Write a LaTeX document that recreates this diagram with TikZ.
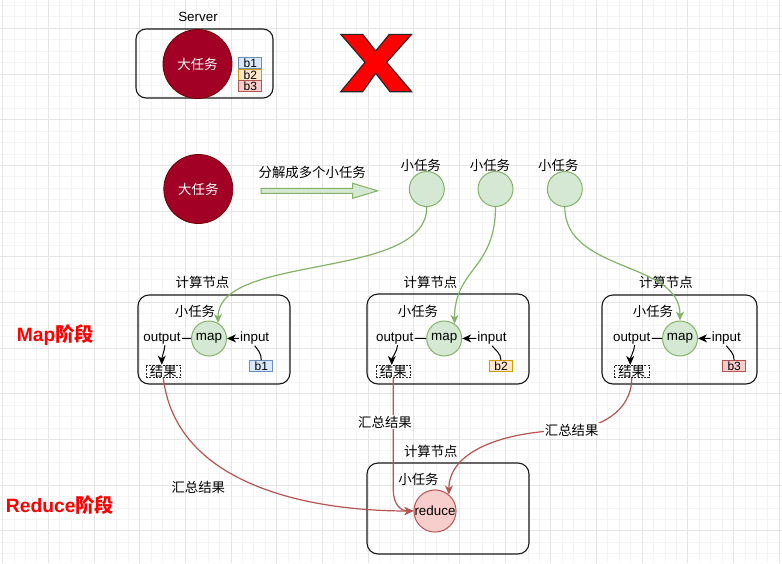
\documentclass[tikz,border=0pt]{standalone}
\usepackage{fontspec}
\setmainfont{Liberation Sans}
\newfontfamily\cjk{Noto Sans CJK SC}
\usetikzlibrary{arrows.meta}
\definecolor{gfill}{HTML}{D5E8D4}
\definecolor{gline}{HTML}{82B366}
\definecolor{rfill}{HTML}{F8CECC}
\definecolor{rline}{HTML}{B85450}
\definecolor{bfill}{HTML}{DAE8FC}
\definecolor{bline}{HTML}{6C8EBF}
\definecolor{ofill}{HTML}{FFE6CC}
\definecolor{oline}{HTML}{D79B00}
\definecolor{dred}{HTML}{A20025}
\definecolor{dredline}{HTML}{6F0000}
\definecolor{gridmin}{HTML}{F4F4F4}
\definecolor{gridmaj}{HTML}{E5E5E5}
\newcommand\fsz{\fontsize{13.4}{15}\selectfont}
\newcommand\tagfsz{\fontsize{12}{13}\selectfont}
\newcommand\bigfsz{\fontsize{19.3}{22}\selectfont}
\begin{document}
\begin{tikzpicture}[x=1pt,y=-1pt,
  txt/.style={inner sep=1pt, font=\fsz},
  ctxt/.style={inner sep=1pt, font=\fsz\cjk},
  wlbl/.style={inner sep=1pt, font=\fsz\cjk, fill=white},
  stage/.style={inner sep=0pt, font=\bigfsz\bfseries, text=red},
  cbox/.style={draw=black!90, line width=1.1pt, rounded corners=11pt, minimum width=#1},
  gcirc/.style={circle, draw=gline, fill=gfill, line width=1pt, minimum size=35pt, inner sep=0pt, font=\fsz},
  bigcirc/.style={circle, draw=dredline, fill=dred, line width=0.8pt, minimum size=69pt, inner sep=0pt, text=white, font=\fsz\cjk},
  tagbox/.style={draw=#1line, fill=#1fill, line width=0.9pt, inner sep=0pt, minimum width=23pt, minimum height=11pt, text height=8.6pt, text depth=0pt, font=\tagfsz},
  resbox/.style={draw=black!85, dash pattern=on 2pt off 1.3pt, line width=0.8pt, inner sep=0pt, minimum width=34.5pt, minimum height=12pt, font=\fsz\cjk},
  tip/.style={-{Stealth[length=9pt,width=8pt,inset=2.8pt]}},
  blk/.style={tip, draw=black, line width=1pt},
  garrow/.style={tip, draw=gline, line width=1.2pt},
  rarrow/.style={tip, draw=rline, line width=1.2pt}
]
\useasboundingbox (0,0) rectangle (782,563);
\fill[white] (0,0) rectangle (782,563);
% grid
\foreach \i in {0,...,68} \draw[gridmin, line width=0.8pt] ({2.6+11.42*\i},0) -- ++(0,563);
\foreach \j in {0,...,49} \draw[gridmin, line width=0.8pt] (0,{5.46+11.42*\j}) -- ++(782,0);
\foreach \i in {0,...,17} \draw[gridmaj, line width=0.9pt] ({2.6+45.68*\i},0) -- ++(0,563);
\foreach \j in {0,...,11} \draw[gridmaj, line width=0.9pt] (0,{28.3+45.68*\j}) -- ++(782,0);

% ---------- top: server ----------
\node[ctxt, font=\fsz] (serverlbl) at (198,17) {Server};
\node[cbox=137pt, minimum height=69pt, rounded corners=10pt] (server) at (204.5,63.5) {};
\node[bigcirc] (big1) at (197.5,64) {大任务};
\node[tagbox=b] (tb1) at (250.3,63.3) {b1};
\node[tagbox=o] (tb2) at (250.3,74.8) {b2};
\node[tagbox=r] (tb3) at (250.3,86.3) {b3};
% red X
\filldraw[fill=red, draw=black!85, line width=1.1pt, line join=miter]
  (340.7,34.3) -- (362.7,34.3) -- (375.7,51) -- (389.3,34.3) -- (411.7,34.3) -- (386.7,62.3)
  -- (411.7,91.7) -- (390,91.7) -- (375.7,73.3) -- (362.7,91.7) -- (340.7,91.7) -- (365,62.3) -- cycle;

% ---------- split row ----------
\node[bigcirc] (big2) at (198.3,189) {大任务};
\filldraw[fill=gfill, draw=gline, line width=1pt]
  (261,188.3) -- (352.7,188.3) -- (352.7,183.3) -- (377.7,190.8) -- (352.7,198.3) -- (352.7,193.3) -- (261,193.3) -- cycle;
\node[ctxt] (splitlbl) at (312.2,172) {分解成多个小任务};
\node[gcirc] (c1) at (426.8,189) {};
\node[gcirc] (c2) at (495.5,189) {};
\node[gcirc] (c3) at (564.8,189) {};
\node[ctxt] (c1l) at (420.7,165.7) {小任务};
\node[ctxt] (c2l) at (490,165.7) {小任务};
\node[ctxt] (c3l) at (558.3,165.7) {小任务};

% ---------- stage labels ----------
\node[stage] (maplbl) at (55.5,335) {Map{\cjk 阶段}};
\node[stage] (redlbl) at (60,505) {Reduce{\cjk 阶段}};

% ---------- map box 1 ----------
\node[ctxt] (ck1) at (202.5,282.7) {计算节点};
\node[cbox=152pt, minimum height=89pt] (box1) at (214,339.5) {};
\node[ctxt] (t1) at (195,311.7) {小任务};
\node[gcirc] (map1) at (209,338.5) {map};
\node[txt] (out1) at (162,338.3) {output};
\node[txt] (in1) at (254.7,338.3) {input};
\node[resbox] (res1) at (163.3,371.2) {结果};
\node[tagbox=b] (b1) at (261.3,366) {b1};
\draw[black, line width=1pt] (map1.west) -- (out1.east);
\draw[blk] (in1.west) -- (map1.east);
\draw[blk] ([xshift=3pt]out1.south) .. controls +(-1,7) and +(0,-7) .. ([xshift=-1.5pt]res1.north);
\draw[black, line width=1pt] (b1.north) .. controls +(0,-7) and +(3,4) .. (in1.south);

% ---------- map box 2 ----------
\node[ctxt] (ck2) at (430.5,282.7) {计算节点};
\node[cbox=162pt, minimum height=90pt] (box2) at (448,339) {};
\node[ctxt] (t2) at (418,311.7) {小任务};
\node[gcirc] (map2) at (444.2,338.5) {map};
\node[txt] (out2) at (394.7,338.3) {output};
\node[txt] (in2) at (492,338.3) {input};
\node[resbox] (res2) at (393.3,371.5) {结果};
\node[tagbox=o] (b2) at (501,366.2) {b2};
\draw[black, line width=1pt] (map2.west) -- (out2.east);
\draw[blk] (in2.west) -- (map2.east);
\draw[blk] ([xshift=3pt]out2.south) .. controls +(-1,7) and +(0,-7) .. ([xshift=-1.5pt]res2.north);
\draw[black, line width=1pt] (b2.north) .. controls +(0,-7) and +(3,4) .. (in2.south);

% ---------- map box 3 ----------
\node[ctxt] (ck3) at (666,282.7) {计算节点};
\node[cbox=155pt, minimum height=89pt] (box3) at (679.5,339.5) {};
\node[ctxt] (t3) at (653,311.7) {小任务};
\node[gcirc] (map3) at (680,338.5) {map};
\node[txt] (out3) at (631.7,338.3) {output};
\node[txt] (in3) at (726.3,338.3) {input};
\node[resbox] (res3) at (631.7,371.5) {结果};
\node[tagbox=r] (b3) at (734.2,366.2) {b3};
\draw[black, line width=1pt] (map3.west) -- (out3.east);
\draw[blk] (in3.west) -- (map3.east);
\draw[blk] ([xshift=3pt]out3.south) .. controls +(-1,7) and +(0,-7) .. ([xshift=-1.5pt]res3.north);
\draw[black, line width=1pt] (b3.north) .. controls +(0,-7) and +(3,4) .. (in3.south);

% ---------- reduce box ----------
\node[ctxt] (ck4) at (430.8,451.7) {计算节点};
\node[cbox=162pt, minimum height=91pt] (box4) at (448,508.5) {};
\node[ctxt] (t4) at (418.5,479.3) {小任务};
\node[circle, draw=rline, fill=rfill, line width=1pt, minimum size=42pt, inner sep=0pt, font=\fsz] (reduce) at (435,511) {reduce};

% ---------- green edges ----------
\draw[garrow] (c1.south) .. controls +(0,74) and +(0,-70) .. (map1.60);
\draw[garrow] (c2.south) .. controls +(0,62) and +(0,-55) .. (map2.55);
\draw[garrow] (c3.south) .. controls +(0,66) and +(0,-60) .. (map3.north);

% ---------- red edges ----------
\node[ctxt] (sum1) at (198.3,487.3) {汇总结果};
\draw[rarrow] (res1.south) .. controls +(12,103) and +(-114,0) .. (reduce.west);
\draw[rarrow] (res2.south) -- ++(0,112) .. controls +(0,15) and +(-12,0) .. (reduce.west);
\draw[rarrow] (res3.south) .. controls +(0,35) and +(25,-2) .. (571.7,430) .. controls +(-72,1) and +(0,-42) .. (reduce.50);
\node[wlbl] (sum2) at (385,422.3) {汇总结果};
\node[wlbl] (sum3) at (571.7,430) {汇总结果};
\end{tikzpicture}
\end{document}
